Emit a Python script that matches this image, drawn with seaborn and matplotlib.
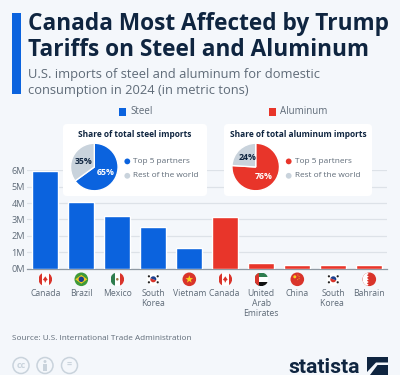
import matplotlib
matplotlib.use("Agg")
import matplotlib.pyplot as plt
import seaborn as sns
import pandas as pd
from matplotlib.patches import Rectangle, FancyBboxPatch, Circle, Polygon, Wedge

# ---------- data ----------
partners = ["Canada", "Brazil", "Mexico", "South\nKorea", "Vietnam",
            "Canada ", "United\nArab\nEmirates", "China", "South\nKorea ", "Bahrain"]
metal = ["Steel"] * 5 + ["Aluminum"] * 5
tons_m = [5.98, 4.08, 3.18, 2.53, 1.23, 3.14, 0.33, 0.21, 0.21, 0.21]
yticks = [0, 1, 2, 3, 4, 5, 6]
steel_share = [65, 35]
aluminum_share = [76, 24]

BG = "#f4f7fb"; BLUE = "#0b63de"; RED = "#e8352a"; NAVY = "#0f2540"
GREY = "#5f6b78"; GRID = "#dde2e8"; PALE = "#c9d3dc"

sns.set_theme(style="white")
plt.rcParams["font.family"] = ["Open Sans", "DejaVu Sans"]

W, H = 400, 375
fig = plt.figure(figsize=(W / 100, H / 100), dpi=100, facecolor=BG)

def rect(x0, y0, x1, y1):
    return [x0 / W, 1 - y1 / H, (x1 - x0) / W, (y1 - y0) / H]

# ---------- bars ----------
ax = fig.add_axes(rect(27.3, 170.3, 387.3, 268.5), facecolor="none")
df = pd.DataFrame({"partner": partners, "tons": tons_m, "metal": metal})
sns.barplot(data=df, x="partner", y="tons", hue="metal", dodge=False, ax=ax, width=0.72,
            palette={"Steel": BLUE, "Aluminum": RED}, legend=False, saturation=1, zorder=3)
ax.set_xlim(-0.5, 9.5); ax.set_ylim(0, 6)
ax.set_yticks(yticks, [f"{v}M" for v in yticks])
ax.set_xlabel(""); ax.set_ylabel("")
ax.yaxis.grid(True, color=GRID, lw=0.9); ax.set_axisbelow(True)
sns.despine(ax=ax, left=True, top=True, right=True)
ax.spines["bottom"].set_color("#8f99a3"); ax.spines["bottom"].set_linewidth(0.9)
ax.tick_params(axis="y", length=0, pad=1.7, labelsize=6.6, labelcolor=GREY)
ax.tick_params(axis="x", length=0, pad=15, labelsize=6.2, labelcolor=GREY)
for t in ax.get_xticklabels():
    t.set_linespacing(1.15)

# ---------- overlay in pixel coordinates ----------
ov = fig.add_axes([0, 0, 1, 1], facecolor="none")
ov.set_xlim(0, W); ov.set_ylim(H, 0); ov.axis("off")

ov.add_patch(Rectangle((12, 13), 9, 81, color=BLUE, lw=0))
ov.text(28, 29.5, "Canada Most Affected by Trump", fontsize=16.3, fontweight="bold", color=NAVY, va="baseline")
ov.text(28, 55.5, "Tariffs on Steel and Aluminum", fontsize=16.3, fontweight="bold", color=NAVY, va="baseline")
ov.text(28, 78, "U.S. imports of steel and aluminum for domestic", fontsize=9.3, color=GREY, va="baseline")
ov.text(28, 94, "consumption in 2024 (in metric tons)", fontsize=9.3, color=GREY, va="baseline")

# legend
ov.add_patch(Rectangle((118.5, 108), 7.5, 7.5, color=BLUE, lw=0))
ov.text(130, 111.7, "Steel", fontsize=7, color=GREY, va="center")
ov.add_patch(Rectangle((268.5, 108), 7.5, 7.5, color=RED, lw=0))
ov.text(280.5, 111.7, "Aluminum", fontsize=7, color=GREY, va="center")

# cards
def card(x0, y0, x1, y1, title, main, pie_x, share):
    ov.add_patch(FancyBboxPatch((x0 + 4, y0 + 4), x1 - x0 - 8, y1 - y0 - 8,
                                boxstyle="round,pad=4,rounding_size=4", fc="white", ec="none", zorder=4))
    ov.text((x0 + x1) / 2, y0 + 10.3, title, fontsize=6.0, fontweight="bold", color=NAVY,
            ha="center", va="center", zorder=5)
    lx = pie_x + 33
    ov.add_patch(Circle((lx, 161.4), 2.9, fc=main, ec="none", zorder=5))
    ov.add_patch(Circle((lx, 175.8), 2.9, fc=PALE, ec="none", zorder=5))
    ov.text(lx + 6, 161.4, "Top 5 partners", fontsize=5.95, color=GREY, va="center", zorder=5)
    ov.text(lx + 6, 175.8, "Rest of the world", fontsize=5.95, color=GREY, va="center", zorder=5)
    pa = fig.add_axes(rect(pie_x - 24, 143, pie_x + 24, 191), zorder=5)
    _, _, auto = pa.pie(share, colors=[main, PALE], startangle=90, counterclock=False, radius=1,
                        autopct="%d%%", pctdistance=0.52, textprops=dict(fontsize=6.3, fontweight="bold"))
    auto[0].set_color("white"); auto[1].set_color(NAVY)
    pa.set_xlim(-1.01, 1.01); pa.set_ylim(-1.01, 1.01)
    pa.set_aspect("equal")

card(63, 124, 207, 196, "Share of total steel imports", BLUE, 94.3, steel_share)
card(224, 124, 372, 196, "Share of total aluminum imports", RED, 255.7, aluminum_share)

# flags
FY, FR = 279.3, 6.8
def disc(cx, color=None):
    c = Circle((cx, FY), FR, fc=color or "white", ec="none", zorder=6)
    ov.add_patch(c)
    return c
def clipped(cx, patch, clip):
    ov.add_patch(patch); patch.set_clip_path(clip); patch.set_zorder(7)

def canada(cx):
    c = disc(cx, "white")
    clipped(cx, Rectangle((cx - FR, FY - FR), 3.4, 2 * FR, color="#d9342b", lw=0), c)
    clipped(cx, Rectangle((cx + FR - 3.4, FY - FR), 3.4, 2 * FR, color="#d9342b", lw=0), c)
    ov.add_patch(Polygon([(cx, FY - 3), (cx + 2.4, FY + 0.5), (cx + 0.6, FY + 1.6), (cx + 0.6, FY + 3),
                          (cx - 0.6, FY + 3), (cx - 0.6, FY + 1.6), (cx - 2.4, FY + 0.5)],
                         fc="#d9342b", ec="none", zorder=8))
def brazil(cx):
    disc(cx, "#3f9a3a")
    ov.add_patch(Polygon([(cx - 6, FY), (cx, FY - 4.4), (cx + 6, FY), (cx, FY + 4.4)], fc="#f2c81e", ec="none", zorder=7))
    ov.add_patch(Circle((cx, FY), 2.7, fc="#1b3f8f", ec="none", zorder=8))
def mexico(cx):
    c = disc(cx, "white")
    clipped(cx, Rectangle((cx - FR, FY - FR), 4.3, 2 * FR, color="#2f7d4f", lw=0), c)
    clipped(cx, Rectangle((cx + FR - 4.3, FY - FR), 4.3, 2 * FR, color="#d9342b", lw=0), c)
    ov.add_patch(Circle((cx, FY), 1.3, fc="#9a7a45", ec="none", zorder=8))
def korea(cx):
    disc(cx, "white")
    ov.add_patch(Wedge((cx, FY), 3, 20, 200, fc="#d9342b", ec="none", zorder=8))
    ov.add_patch(Wedge((cx, FY), 3, 200, 380, fc="#1b3f8f", ec="none", zorder=8))
    for dx, dy in [(-4.4, -3), (4.4, -3), (-4.4, 3), (4.4, 3)]:
        ov.add_patch(Circle((cx + dx, FY + dy), 1.1, fc="#222222", ec="none", zorder=8))
def vietnam(cx):
    disc(cx, "#d9342b")
    ov.add_patch(Polygon([(cx, FY - 4), (cx + 1, FY - 1.2), (cx + 3.8, FY - 1.2), (cx + 1.5, FY + 0.6),
                          (cx + 2.4, FY + 3.3), (cx, FY + 1.6), (cx - 2.4, FY + 3.3), (cx - 1.5, FY + 0.6),
                          (cx - 3.8, FY - 1.2), (cx - 1, FY - 1.2)], fc="#f7d21e", ec="none", zorder=8))
def uae(cx):
    c = disc(cx, "white")
    clipped(cx, Rectangle((cx - FR, FY - FR), 2 * FR, FR * 0.66, color="#2f7d4f", lw=0), c)
    clipped(cx, Rectangle((cx - FR, FY + FR * 0.34), 2 * FR, FR * 0.66, color="#111111", lw=0), c)
    clipped(cx, Rectangle((cx - FR, FY - FR), 4, 2 * FR, color="#d9342b", lw=0), c)
def china(cx):
    disc(cx, "#d9342b")
    ov.add_patch(Circle((cx - 2.5, FY - 2.5), 1.5, fc="#f7d21e", ec="none", zorder=8))
    for dx, dy in [(0.6, -4.2), (1.8, -2.6), (1.8, -0.8), (0.4, 0.4)]:
        ov.add_patch(Circle((cx + dx, FY + dy), 0.45, fc="#f7d21e", ec="none", zorder=8))
def bahrain(cx):
    c = disc(cx, "#d9342b")
    pts = [(cx - FR, FY - FR)]
    n = 5
    for i in range(2 * n + 1):
        pts.append((cx - 2.4 + (1.8 if i % 2 else 0), FY - FR + i * 2 * FR / (2 * n)))
    pts.append((cx - FR, FY + FR))
    clipped(cx, Polygon(pts, fc="white", ec="none"), c)

for i, fn in enumerate([canada, brazil, mexico, korea, vietnam, canada, uae, china, korea, bahrain]):
    fn(45.3 + 36 * i)

# footer
ov.text(12.5, 339, "Source: U.S. International Trade Administration", fontsize=5.85, color=GREY, va="center")
for cx, s in [(21, "cc"), (45, ""), (69.5, "=")]:
    ov.add_patch(Circle((cx, 365.5), 8, fc="none", ec=PALE, lw=1.1))
    if s:
        ov.text(cx, 365.5, s, fontsize=6.5, color=PALE, ha="center", va="center", fontweight="bold")
ov.add_patch(Circle((45, 361.5), 1.5, fc=PALE, ec="none"))
ov.add_patch(Rectangle((43, 363.8), 4, 7, fc=PALE, ec="none"))
ov.text(288, 373, "statista", fontsize=15.2, fontweight="bold", color=NAVY, va="baseline", family=["Roboto", "DejaVu Sans"])
ov.add_patch(Rectangle((367, 357), 21, 18, fc=NAVY, ec="none"))
ov.add_patch(Polygon([(367, 372), (376, 362.5), (388, 362.5), (388, 365), (377.5, 365), (370, 375), (367, 375)], fc=BG, ec="none"))

fig.savefig("out.png", dpi=100, facecolor=BG)
